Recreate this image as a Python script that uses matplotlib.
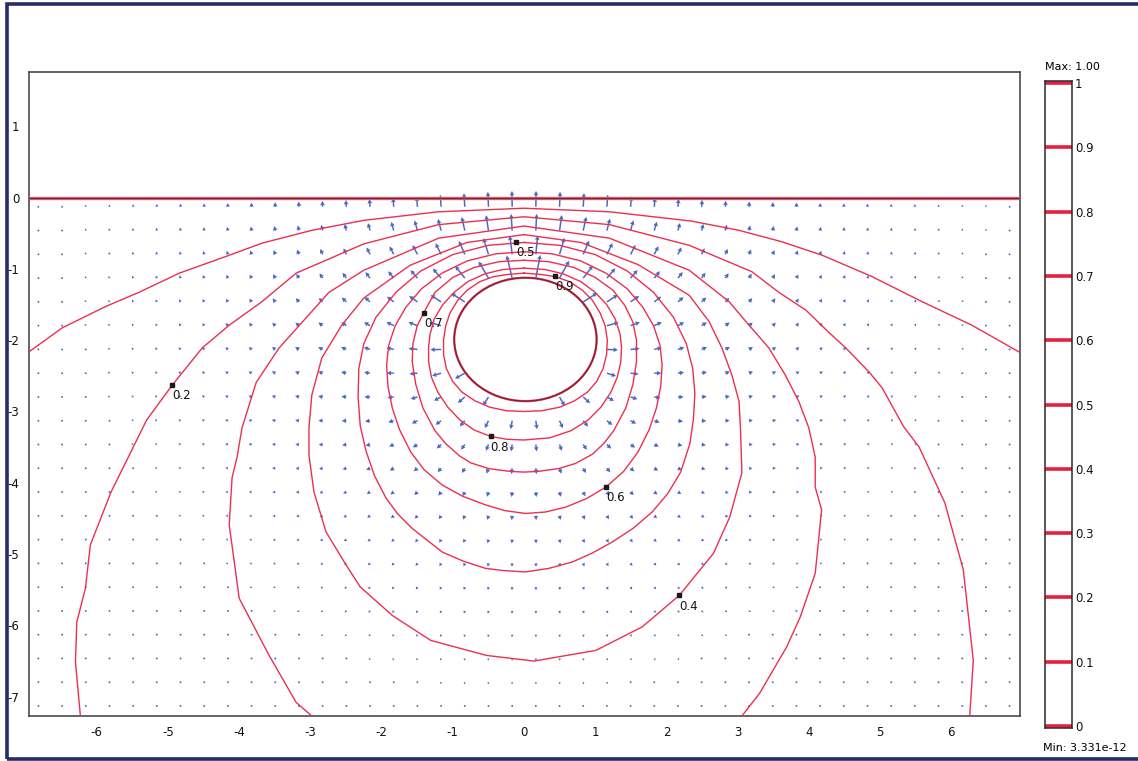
import numpy as np
import matplotlib.pyplot as plt
from matplotlib.patches import Ellipse, Rectangle

plt.rcParams['axes.unicode_minus'] = False

# iso-potential lines, (x, y) vertices
c01 = [(-6.96, -2.17), (-6.49, -1.83), (-5.88, -1.53), (-5.41, -1.33), (-4.84, -1.06),
       (-4.14, -0.81), (-3.68, -0.64), (-2.98, -0.46), (-2.25, -0.32), (-1.2, -0.2),
       (0.0, -0.15), (1.2, -0.2), (2.35, -0.33), (3.02, -0.46), (3.62, -0.62),
       (4.19, -0.81), (4.89, -1.11), (5.59, -1.46), (6.29, -1.79), (6.96, -2.17)]
c02 = [(-6.23, -7.27), (-6.3, -6.51), (-6.28, -5.95), (-6.16, -5.48), (-6.09, -4.87),
       (-5.8, -4.13), (-5.3, -3.12), (-4.94, -2.63), (-4.52, -2.11), (-4.14, -1.79),
       (-3.68, -1.46), (-3.2, -1.06), (-2.25, -0.65), (-1.2, -0.38), (0.0, -0.27),
       (1.2, -0.38), (2.32, -0.67), (3.2, -1.04), (3.58, -1.33), (3.96, -1.58),
       (4.28, -1.89), (4.52, -2.11), (4.85, -2.45), (5.03, -2.67), (5.33, -3.21),
       (5.55, -3.5), (5.91, -4.28), (6.17, -5.22), (6.31, -6.49), (6.26, -7.27)]
c03 = [(-2.98, -7.27), (-3.2, -7.08), (-3.58, -6.42), (-4.0, -5.62), (-4.05, -5.25),
       (-4.14, -4.59), (-4.1, -3.93), (-4.03, -3.64), (-3.96, -3.23), (-3.76, -2.59),
       (-3.44, -2.11), (-2.74, -1.33), (-2.25, -1.02), (-1.2, -0.57), (0.0, -0.40),
       (1.2, -0.57), (2.32, -1.02), (2.88, -1.46), (3.16, -1.79), (3.44, -2.11),
       (3.67, -2.49), (3.86, -2.86), (4.0, -3.23), (4.09, -3.64), (4.09, -4.06),
       (4.18, -4.38), (4.09, -5.27), (3.88, -5.88), (3.69, -6.3), (3.31, -6.95),
       (3.06, -7.27)]
c04 = [(0.0, -0.52), (0.8, -0.63), (1.6, -0.94), (2.32, -1.37), (2.6, -1.74),
       (2.78, -2.11), (2.92, -2.49), (3.02, -2.86), (3.04, -3.23), (3.06, -3.86),
       (2.89, -4.48), (2.66, -4.99), (2.18, -5.58), (1.66, -6.02), (1.01, -6.35),
       (0.14, -6.5), (-0.53, -6.42), (-1.31, -6.21), (-1.85, -5.86), (-2.3, -5.46),
       (-2.5, -5.15), (-2.78, -4.69), (-2.95, -4.13), (-3.02, -3.61), (-3.02, -3.23),
       (-2.98, -2.77), (-2.84, -2.25), (-2.56, -1.79), (-2.25, -1.41), (-1.6, -0.95),
       (-0.8, -0.63), (0.0, -0.52)]
c05 = [(0.0, -0.63), (0.5, -0.67), (1.0, -0.8), (1.45, -1.03), (1.82, -1.33),
       (2.1, -1.68), (2.28, -2.05), (2.37, -2.4), (2.4, -2.75), (2.38, -3.1),
       (2.33, -3.45), (2.2, -3.85), (2.02, -4.15), (1.8, -4.41), (1.53, -4.64),
       (1.24, -4.83), (0.95, -4.99), (0.68, -5.11), (0.35, -5.2), (0.02, -5.25),
       (-0.3, -5.23), (-0.54, -5.2), (-0.85, -5.1), (-1.15, -4.97), (-1.57, -4.64),
       (-1.78, -4.43), (-1.94, -4.21), (-2.1, -3.9), (-2.22, -3.55), (-2.3, -3.2),
       (-2.33, -2.8), (-2.32, -2.4), (-2.25, -2.05), (-2.08, -1.68), (-1.8, -1.33),
       (-1.45, -1.03), (-1.0, -0.8), (-0.5, -0.67), (0.0, -0.63)]
c06 = [(0.0, -0.76), (0.4, -0.79), (0.8, -0.89), (1.15, -1.06), (1.45, -1.28),
       (1.67, -1.54), (1.82, -1.8), (1.91, -2.07), (1.94, -2.35), (1.92, -2.65),
       (1.86, -2.95), (1.76, -3.25), (1.6, -3.57), (1.4, -3.84), (1.15, -4.06),
       (0.88, -4.22), (0.59, -4.34), (0.3, -4.41), (0.02, -4.43), (-0.27, -4.39),
       (-0.54, -4.31), (-0.86, -4.19), (-1.15, -4.03), (-1.4, -3.82), (-1.59, -3.57),
       (-1.75, -3.25), (-1.85, -2.95), (-1.91, -2.65), (-1.93, -2.35), (-1.9, -2.07),
       (-1.81, -1.8), (-1.66, -1.54), (-1.44, -1.28), (-1.15, -1.06), (-0.8, -0.89),
       (-0.4, -0.79), (0.0, -0.76)]
c07 = [(0.0, -0.88), (0.35, -0.9), (0.7, -0.98), (1.0, -1.12), (1.25, -1.3),
       (1.42, -1.52), (1.53, -1.75), (1.58, -2.0), (1.58, -2.3), (1.53, -2.62),
       (1.43, -2.95), (1.26, -3.27), (1.12, -3.45), (0.96, -3.6), (0.72, -3.73),
       (0.49, -3.8), (0.2, -3.84), (0.0, -3.85), (-0.2, -3.84), (-0.5, -3.8),
       (-0.75, -3.72), (-0.91, -3.62), (-1.1, -3.45), (-1.25, -3.27), (-1.42, -2.95),
       (-1.52, -2.62), (-1.57, -2.3), (-1.56, -2.05), (-1.5, -1.8), (-1.4, -1.6),
       (-1.25, -1.33), (-1.0, -1.12), (-0.7, -0.98), (-0.35, -0.9), (0.0, -0.88)]
c08 = [(0.0, -0.99), (0.3, -1.01), (0.55, -1.07), (0.8, -1.18), (1.0, -1.33),
       (1.16, -1.5), (1.28, -1.7), (1.35, -1.92), (1.37, -2.1), (1.36, -2.3),
       (1.31, -2.52), (1.22, -2.73), (1.08, -2.94), (0.9, -3.12), (0.66, -3.27),
       (0.36, -3.37), (0.0, -3.4), (-0.24, -3.39), (-0.47, -3.35), (-0.7, -3.26),
       (-0.9, -3.12), (-1.07, -2.94), (-1.21, -2.73), (-1.3, -2.52), (-1.34, -2.3),
       (-1.34, -2.1), (-1.32, -1.92), (-1.26, -1.7), (-1.14, -1.5), (-0.98, -1.33),
       (-0.79, -1.18), (-0.55, -1.07), (-0.3, -1.01), (0.0, -0.99)]
c09 = [(0.0, -1.06), (0.25, -1.08), (0.44, -1.11), (0.64, -1.18), (0.82, -1.3),
       (0.96, -1.44), (1.07, -1.62), (1.14, -1.8), (1.17, -2.0), (1.16, -2.2),
       (1.11, -2.4), (1.02, -2.58), (0.89, -2.73), (0.71, -2.85), (0.5, -2.94),
       (0.25, -2.99), (0.0, -3.0), (-0.25, -2.99), (-0.48, -2.94), (-0.69, -2.85),
       (-0.87, -2.73), (-1.0, -2.58), (-1.09, -2.4), (-1.13, -2.2), (-1.13, -2.0),
       (-1.1, -1.8), (-1.04, -1.62), (-0.93, -1.44), (-0.8, -1.3), (-0.62, -1.18),
       (-0.43, -1.11), (-0.24, -1.08), (0.0, -1.06)]
iso_lines = [c01, c02, c03, c04, c05, c06, c07, c08, c09]

# inline level labels
label_x = [-4.94, 2.18, -0.11, 1.15, -1.4, -0.47, 0.44]
label_y = [-2.63, -5.58, -0.62, -4.06, -1.62, -3.35, -1.10]
label_txt = ['0.2', '0.4', '0.5', '0.6', '0.7', '0.8', '0.9']

# electrode (potential 1) and its line-source equivalent
elec_x, elec_y = 0.02, -1.99
elec_a, elec_b = 1.0, 0.865
src_depth = 1.73

legend_levels = [0, 0.1, 0.2, 0.3, 0.4, 0.5, 0.6, 0.7, 0.8, 0.9, 1]
legend_labels = ['0', '0.1', '0.2', '0.3', '0.4', '0.5', '0.6', '0.7', '0.8', '0.9', '1']

xticks = [-6, -5, -4, -3, -2, -1, 0, 1, 2, 3, 4, 5, 6]
yticks = [-7, -6, -5, -4, -3, -2, -1, 0, 1]

red = '#ec2f52'
dark_red = '#8e1e30'
arrow_blue = '#4a68c2'

W, H = 1138, 761
fig = plt.figure(figsize=(W / 100, H / 100), dpi=100)
ax = fig.add_axes([29 / W, 1 - 716 / H, 991 / W, 644 / H])
ax.set_xlim(-6.952, 6.966)
ax.set_ylim(-7.27, 1.76)

# arrow grid of the field E = -grad(V), lengths compressed for display
xg = np.linspace(-6.82, 6.82, 42)
yg = np.linspace(-0.13, -7.13, 22)
X, Y = np.meshgrid(xg, yg)
r1 = (X - elec_x) ** 2 + (Y + src_depth) ** 2
r2 = (X - elec_x) ** 2 + (Y - src_depth) ** 2
U = (X - elec_x) / r1 - (X - elec_x) / r2
V = (Y + src_depth) / r1 - (Y - src_depth) / r2
mag = np.hypot(U, V)
U = U * mag ** -0.25
V = V * mag ** -0.25
inside = ((X - elec_x) / elec_a) ** 2 + ((Y - elec_y) / elec_b) ** 2 < 1.0
U = np.ma.masked_where(inside, U)
V = np.ma.masked_where(inside, V)
ax.quiver(X, Y, U, V, color=arrow_blue, angles='xy', scale_units='xy', scale=5.0,
          width=0.0015, headwidth=3.2, headlength=3.0, headaxislength=2.7,
          minlength=1.4, zorder=2)

for line in iso_lines:
    pts = np.array(line)
    ax.plot(pts[:, 0], pts[:, 1], color=red, lw=1.0, zorder=3)

# ground surface (V = 0) and electrode boundary (V = 1)
ax.axhline(0, color='#d86a80', lw=2.4, zorder=4)
ax.axhline(0, color=dark_red, lw=1.0, zorder=5)
ax.add_patch(Ellipse((elec_x, elec_y), 2 * elec_a, 2 * elec_b, fill=False,
                     edgecolor='#e0607a', lw=1.7, zorder=4))
ax.add_patch(Ellipse((elec_x, elec_y), 2 * elec_a, 2 * elec_b, fill=False,
                     edgecolor=dark_red, lw=1.1, zorder=5))

ax.plot(label_x, label_y, 's', color='#1a1a1a', ms=2.6, zorder=6)
for lx, ly, t in zip(label_x, label_y, label_txt):
    ax.annotate(t, (lx, ly), xytext=(0, -3), textcoords='offset points',
                ha='left', va='top', fontsize=8.5, color='#111111', zorder=7)

ax.set_xticks(xticks)
ax.set_yticks(yticks)
ax.tick_params(length=0, pad=7, labelsize=8.5, colors='#111111')
for s in ax.spines.values():
    s.set_color('#3c3c3c')
    s.set_linewidth(1.1)

# level legend bar on the right
cax = fig.add_axes([1045 / W, 1 - 728 / H, 27 / W, 647 / H])
cax.set_xlim(0, 1)
cax.set_ylim(-0.0031, 1.0031)
for lev in legend_levels:
    cax.axhline(lev, color='#e8203f', lw=2.6)
cax.set_xticks([])
cax.yaxis.tick_right()
cax.set_yticks(legend_levels)
cax.set_yticklabels(legend_labels)
cax.tick_params(length=0, pad=2, labelsize=8.5, colors='#111111')
for s in cax.spines.values():
    s.set_color('#2a2a2a')
    s.set_linewidth(1.1)

fig.text(1045 / W, 1 - 67 / H, 'Max: 1.00', fontsize=8, va='center', ha='left')
fig.text(1043 / W, 1 - 748 / H, 'Min: 3.331e-12', fontsize=8, va='center', ha='left')

# outer frame
fig.add_artist(Rectangle((6.5 / W, 1 - 758.5 / H), 1.2, (758.5 - 3.5) / H,
                         transform=fig.transFigure, fill=False,
                         edgecolor='#262a6e', lw=2.6))

fig.savefig('out.png', dpi=100)
